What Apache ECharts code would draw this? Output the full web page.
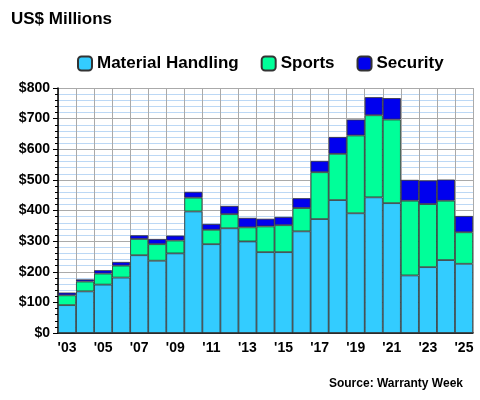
<!DOCTYPE html><html><head><meta charset="utf-8"><script src="https://cdn.jsdelivr.net/npm/echarts@6/dist/echarts.min.js"></script></head><body style="margin:0"><div id="c" style="width:480px;height:400px"></div><script>
const years=['03','04','05','06','07','08','09','10','11','12','13','14','15','16','17','18','19','20','21','22','23','24','25'];
const material=[91,136,158,181,254,236,260,397,290,342,299,264,264,332,372,434,391,443,424,188,215,238,226];
const sports=[32,32,36,39,53,54,42,45,47,46,46,84,88,76,153,151,254,268,273,244,206,194,103];
const security=[9,7,11,12,12,17,16,19,19,27,31,25,27,32,37,55,52,59,70,68,77,69,53];
const yTicks=[0,100,200,300,400,500,600,700,800];
const F='Liberation Sans';
const mk=(n,d,c)=>({name:n,type:'bar',stack:'a',data:d,barCategoryGap:'0%',itemStyle:{color:c,borderColor:'#333',borderWidth:0.8}});
echarts.init(document.getElementById('c')).setOption({
animation:false,
title:[{text:'US$ Millions',left:6,top:6,textStyle:{fontFamily:F,fontSize:17,fontWeight:'bold',color:'#000'}},
{text:'Source: Warranty Week',right:12,top:373,textStyle:{fontFamily:F,fontSize:12,fontWeight:'bold',color:'#000'}}],
legend:{top:50,left:72,itemGap:22,itemWidth:14,itemHeight:14,textStyle:{fontFamily:F,fontSize:17,fontWeight:'bold',color:'#000'}},
grid:{left:58,right:7,top:88,bottom:67},
xAxis:{type:'category',data:years.map(y=>"'"+y),
axisLine:{lineStyle:{color:'#000',width:1.5}},axisTick:{show:false},
axisLabel:{interval:1,fontFamily:F,fontSize:14,fontWeight:'bold',color:'#000',margin:8},
splitLine:{show:true,interval:0,lineStyle:{color:'#aaa'}}},
yAxis:{type:'value',min:0,max:800,interval:100,
axisLine:{show:true,lineStyle:{color:'#000',width:1.5}},axisTick:{show:true,length:5,lineStyle:{color:'#000'}},
minorTick:{show:true,splitNumber:5,length:3,lineStyle:{color:'#000'}},
minorSplitLine:{show:true,lineStyle:{color:'#bcd8f5'}},
splitLine:{lineStyle:{color:'#aaa'}},
axisLabel:{fontFamily:F,fontSize:14,fontWeight:'bold',color:'#000',formatter:v=>yTicks.includes(v)?'$'+v:''}},
series:[mk('Material Handling',material,'#33ccff'),mk('Sports',sports,'#00ff99'),mk('Security',security,'#0000ee')]
});
</script></body></html>
